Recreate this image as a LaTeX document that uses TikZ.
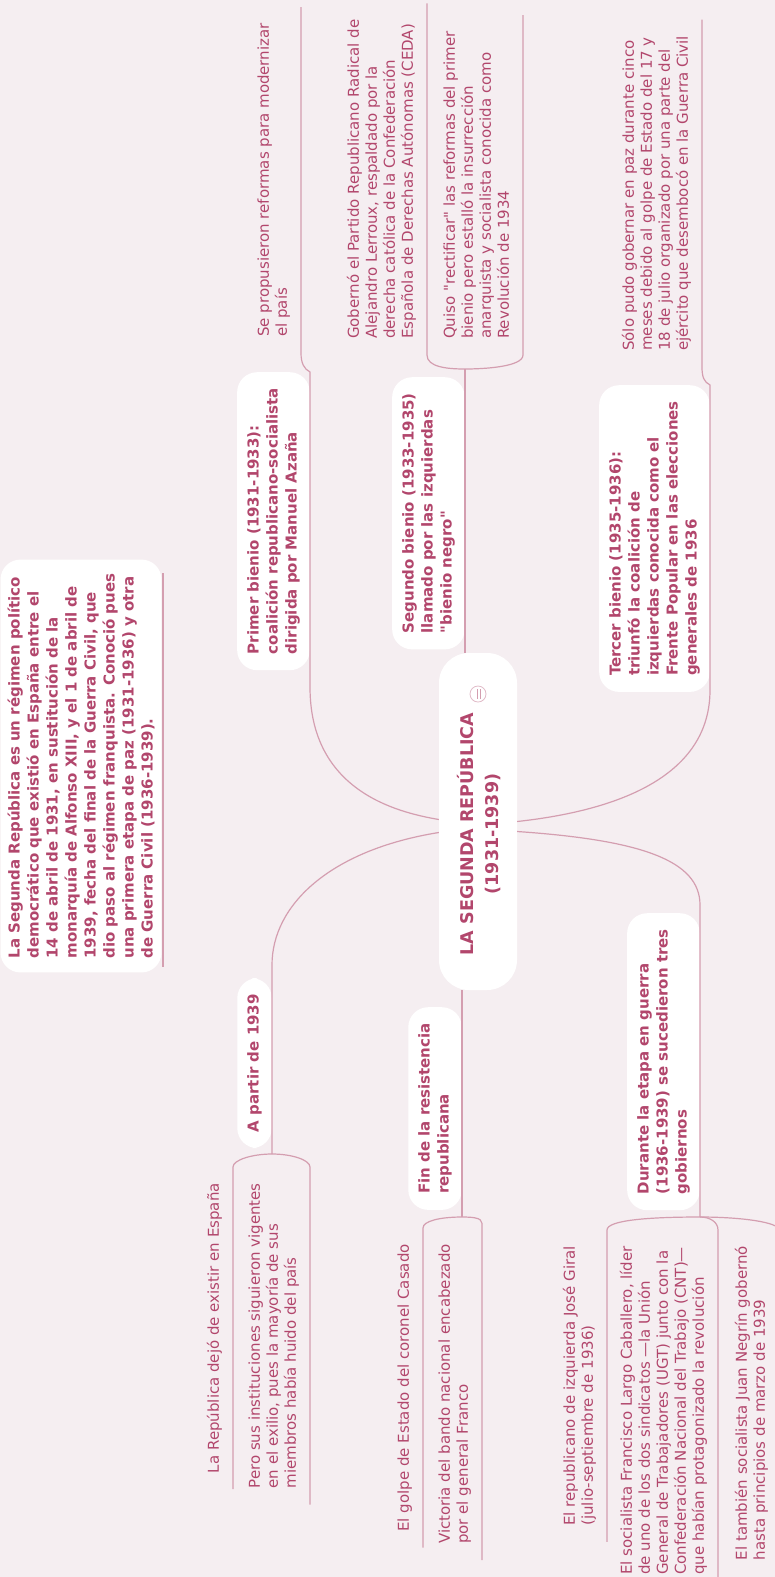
\documentclass[tikz,border=0pt]{standalone}
\usepackage{fontspec}
\setmainfont{DejaVu Sans}[Ligatures=TeXOff]
\usetikzlibrary{positioning,calc}
\definecolor{fondo}{RGB}{245,238,241}
\definecolor{texto}{RGB}{178,70,108}
\definecolor{linea}{RGB}{212,158,176}
\tikzset{
	tema/.style={rotate=90, fill=white, rounded corners=20pt, text=texto, font=\fontsize{15}{19}\selectfont\bfseries, align=left, inner xsep=16pt, inner ysep=10pt},
	hoja/.style={rotate=90, text=texto, font=\fontsize{15}{18}\selectfont, align=left, inner xsep=16pt, inner ysep=10pt, text depth=4pt},
	rama/.style={draw=linea, line width=1.2pt},
}

\begin{document}
\begin{tikzpicture}[x=1pt,y=-1pt]
	\useasboundingbox[fill=fondo] (0,0) rectangle (775,1577);
	\clip (0,0) rectangle (775,1577);
	% tema central
	\node[rotate=90, fill=white, rounded corners=30pt, minimum width=337pt, minimum height=78pt] (rep) at (478,821.5) {};
	\node[rotate=90, text=texto, font=\fontsize{17.5}{25}\selectfont\bfseries, align=center] (titulo) at (479,834) {LA SEGUNDA REPÚBLICA\\(1931-1939)};
	\draw[draw=linea!70, fill=white, line width=0.8pt] (478,694) circle (8pt);
	\draw[linea, line width=0.8pt] (477,689) -- (477,699) (480,689) -- (480,699);
	% introduccion
	\node[rotate=90, fill=white, rounded corners=20pt, text=texto, font=\fontsize{15}{19}\selectfont\bfseries, align=left, inner xsep=14pt, inner ysep=7pt] (intro) at (81,766) {La Segunda República es un régimen político\\democrático que existió en España entre el\\14 de abril de 1931, en sustitución de la\\monarquía de Alfonso XIII, y el 1 de abril de\\1939, fecha del final de la Guerra Civil, que\\dio paso al régimen franquista. Conoció pues\\una primera etapa de paz (1931-1936) y otra\\de Guerra Civil (1936-1939).};
	\draw[rama] (163,573) -- (163,967);
	% ramas
	\node[tema, anchor=south east] (primer) at (310,372) {Primer bienio (1931-1933):\\coalición republicano-socialista\\dirigida por Manuel Azaña};
	\node[tema, anchor=south east] (segundo) at (465,377) {Segundo bienio (1933-1935)\\llamado por las izquierdas\\"bienio negro"};
	\node[tema, anchor=south east] (tercer) at (710,385) {Tercer bienio (1935-1936):\\triunfó la coalición de\\izquierdas conocida como el\\Frente Popular en las elecciones\\generales de 1936};
	\node[tema, anchor=south east] (partir) at (272,978) {A partir de 1939};
	\node[tema, anchor=south east] (fin) at (462,1007) {Fin de la resistencia\\republicana};
	\node[tema, anchor=south east] (durante) at (700,913) {Durante la etapa en guerra\\(1936-1939) se sucedieron tres\\gobiernos};
	% hojas
	\node[hoja, anchor=south west] (reformas) at (301,353) {Se propusieron reformas para modernizar\\el país};
	\node[hoja, anchor=south west] (lerroux) at (427,355) {Gobernó el Partido Republicano Radical de\\Alejandro Lerroux, respaldado por la\\derecha católica de la Confederación\\Española de Derechas Autónomas (CEDA)};
	\node[hoja, anchor=south west] (rectificar) at (523,355) {Quiso "rectificar" las reformas del primer\\bienio pero estalló la insurrección\\anarquista y socialista conocida como\\Revolución de 1934};
	\node[hoja, anchor=south west] (golpe36) at (702,367) {Sólo pudo gobernar en paz durante cinco\\meses debido al golpe de Estado del 17 y\\18 de julio organizado por una parte del\\ejército que desembocó en la Guerra Civil};
	\node[hoja, anchor=south east] (dejo) at (233,1167) {La República dejó de existir en España};
	\node[hoja, anchor=south east] (exilio) at (310,1167) {Pero sus instituciones siguieron vigentes\\en el exilio, pues la mayoría de sus\\miembros había huido del país};
	\node[hoja, anchor=south east] (casado) at (423,1228) {El golpe de Estado del coronel Casado};
	\node[hoja, anchor=south east] (franco) at (482,1228) {Victoria del bando nacional encabezado\\por el general Franco};
	\node[hoja, anchor=south east] (giral) at (607,1230) {El republicano de izquierda José Giral\\(julio-septiembre de 1936)};
	\node[hoja, anchor=south east] (largo) at (718,1230) {El socialista Francisco Largo Caballero, líder\\de uno de los dos sindicatos —la Unión\\General de Trabajadores (UGT) junto con la\\Confederación Nacional del Trabajo (CNT)—\\que habían protagonizado la revolución};
	\node[hoja, anchor=south east] (negrin) at (779,1230) {El también socialista Juan Negrín gobernó\\hasta principios de marzo de 1939};
	% primer bienio
	\draw[rama] (reformas.south east) -- (reformas.south west) .. controls +(0,10) and +(-6,-3) .. (primer.south east) -- (primer.south west) -- (310,687) .. controls (310,790) and (395,812) .. ($(rep.north)+(0,-2)$);
	% segundo bienio
	\draw[rama] (lerroux.south east) -- (lerroux.south west) .. controls +(0,12) and +(-18,0) .. (465,369) .. controls +(18,0) and +(0,12) .. (rectificar.south west) -- (rectificar.south east);
	\draw[rama] (465,369) -- (segundo.south east) -- (segundo.south west) -- (segundo.south west |- rep.east);
	% tercer bienio
	\draw[rama] (golpe36.south east) -- (golpe36.south west) .. controls +(0,10) and +(-6,-3) .. (tercer.south east) -- (tercer.south west) -- (710,690) .. controls (710,765) and (640,808) .. ($(rep.south)+(0,0)$);
	% a partir de 1939
	\draw[rama] ($(rep.north)+(0,11)$) .. controls (330,850) and (272,905) .. (272,965) -- (partir.south east) -- (partir.south west) -- (272,1154);
	\draw[rama] (dejo.south west) -- (dejo.south east) .. controls +(0,-7) and +(-20,0) .. (272,1154) .. controls +(20,0) and +(0,-7) .. (exilio.south east) -- (exilio.south west);
	% fin de la resistencia
	\draw[rama] (fin.south west |- rep.west) -- (fin.south east) -- (fin.south west) -- (462,1217);
	\draw[rama] (casado.south west) -- (casado.south east) .. controls +(0,-7) and +(-22,0) .. (462,1217) .. controls +(22,0) and +(0,-7) .. (franco.south east) -- (franco.south west);
	% durante la guerra
	\draw[rama] ($(rep.south)+(0,10)$) .. controls (640,840) and (700,860) .. (700,905) -- (durante.south east) -- (durante.south west) -- (700,1217);
	\draw[rama] (giral.south west) -- (giral.south east) .. controls +(0,-10) and +(-50,0) .. (700,1217) .. controls +(10,0) and +(0,-8) .. (largo.south east) -- (largo.south west);
	\draw[rama] (700,1217) .. controls +(40,0) and +(0,-8) .. (negrin.south east) -- (negrin.south west);
\end{tikzpicture}
\end{document}
